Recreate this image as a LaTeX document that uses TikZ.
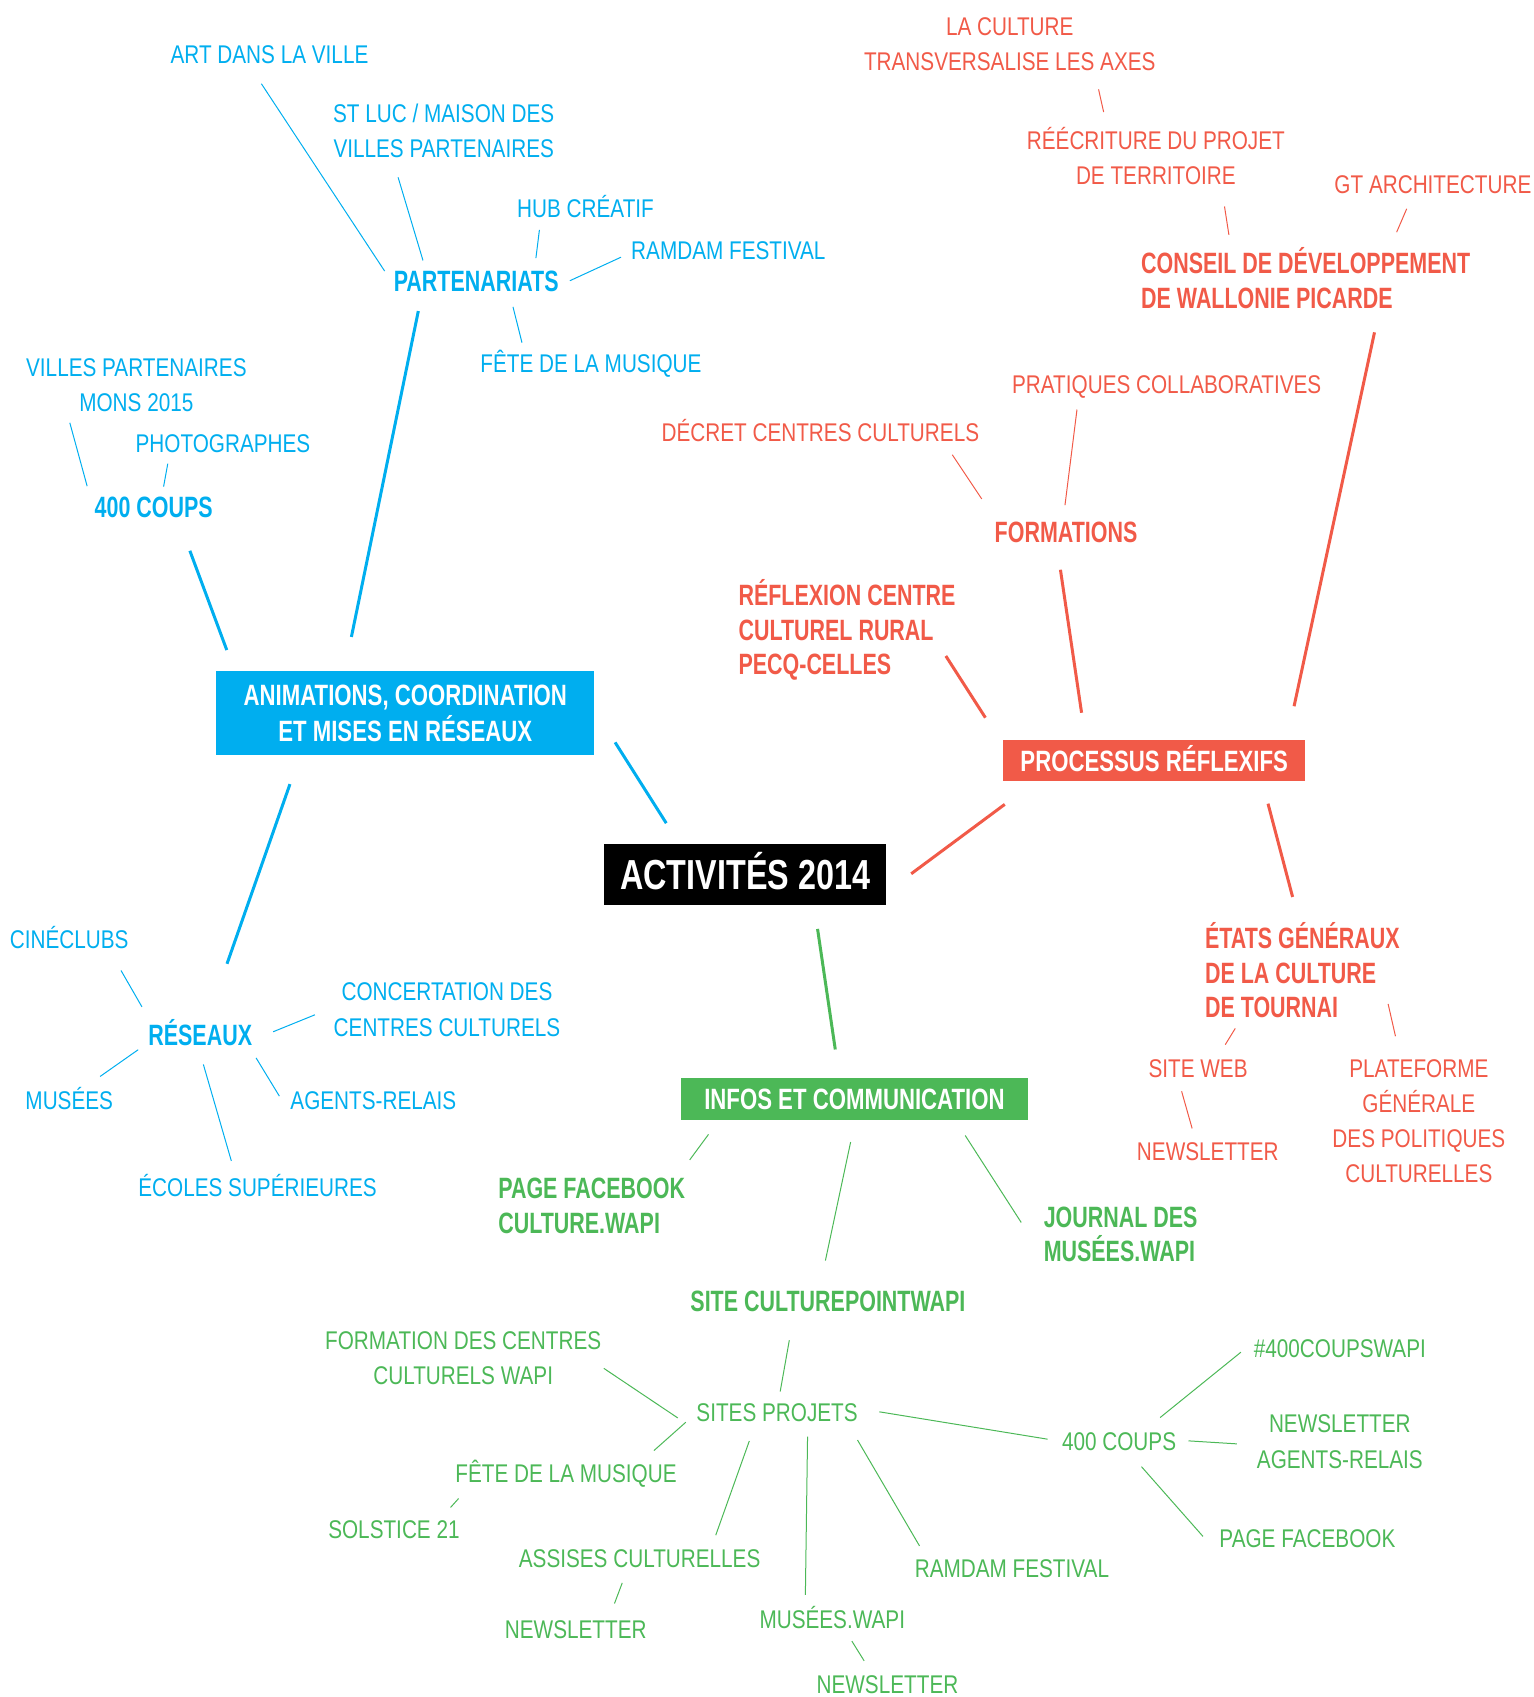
\documentclass[tikz,border=0pt]{standalone}
\usepackage{fontspec}
\newfontfamily\lightfont{Liberation Sans}[FakeStretch=0.81]
\newfontfamily\boldfont{Liberation Sans}[FakeStretch=0.73]
\newfontfamily\boxfont{Liberation Sans}[FakeStretch=0.755]
\newfontfamily\titlefont{Liberation Sans}[FakeStretch=0.77]
\definecolor{cyanA}{HTML}{00AEEF}
\definecolor{redA}{HTML}{F15A48}
\definecolor{greenA}{HTML}{4CB857}

\begin{document}
\begin{tikzpicture}[x=0.5413pt, y=-0.5413pt,
	stack/.style={font=\lightfont\fontsize{12.8}{17.6}\selectfont, align=center, inner sep=3pt},
	small/.style={font=\lightfont\fontsize{12.8}{17.6}\selectfont, inner sep=3pt, text height=9.2pt, text depth=0pt},
	bigstack/.style={font=\boldfont\bfseries\fontsize{14.7}{17.4}\selectfont, align=left, inner sep=3pt},
	big/.style={font=\boldfont\bfseries\fontsize{14.7}{17.4}\selectfont, inner sep=3pt, text height=10.5pt, text depth=0pt},
	box/.style={font=\boxfont\bfseries\fontsize{14.7}{17.9}\selectfont, text=white, align=center, inner sep=0pt},
	twig/.style={line width=0.5pt},
	limb/.style={line width=1.5pt},
	gap/.style 2 args={shorten <=#1pt, shorten >=#2pt}]
	\useasboundingbox (0,0) rectangle (1417,1568);

	\node[small, cyanA] (art) at (249,50) {ART DANS LA VILLE};
	\node[stack, cyanA] (stluc) at (410,121) {ST LUC / MAISON DES\\VILLES PARTENAIRES};
	\node[small, cyanA] (creatif) at (541,192) {HUB CRÉATIF};
	\node[small, cyanA] (ramdam) at (673,231) {RAMDAM FESTIVAL};
	\node[big, cyanA] (part) at (440,260) {PARTENARIATS};
	\node[small, cyanA] (fete) at (546,336) {FÊTE DE LA MUSIQUE};
	\node[stack, cyanA] (villes) at (126,356) {VILLES PARTENAIRES\\MONS 2015};
	\node[small, cyanA] (photo) at (206,410) {PHOTOGRAPHES};
	\node[big, cyanA] (coups) at (142,468) {400 COUPS};
	\node[box, fill=cyanA, minimum width=188.9pt, minimum height=42.2pt] (anim) at (374.5,659) {ANIMATIONS, COORDINATION\\ET MISES EN RÉSEAUX};
	\node[small, cyanA] (cine) at (64,868) {CINÉCLUBS};
	\node[stack, cyanA] (concert) at (413,933) {CONCERTATION DES\\CENTRES CULTURELS};
	\node[big, cyanA] (reseaux) at (185,956) {RÉSEAUX};
	\node[small, cyanA] (musees) at (64,1017) {MUSÉES};
	\node[small, cyanA] (agents) at (345,1017) {AGENTS-RELAIS};
	\node[small, cyanA] (ecoles) at (238,1097) {ÉCOLES SUPÉRIEURES};

	\node[box, font=\titlefont\bfseries\fontsize{21}{25}\selectfont, fill=black, minimum width=141.3pt, minimum height=30.3pt, text height=15pt, text depth=0pt] (act) at (688.5,808) {ACTIVITÉS 2014};

	\node[stack, redA] (culture) at (933,41) {LA CULTURE\\TRANSVERSALISE LES AXES};
	\node[stack, redA] (reecr) at (1068,144) {RÉÉCRITURE DU PROJET\\DE TERRITOIRE};
	\node[small, redA] (gt) at (1324,170) {GT ARCHITECTURE};
	\node[bigstack, redA, anchor=west] (conseil) at (1048.5,257) {CONSEIL DE DÉVELOPPEMENT\\DE WALLONIE PICARDE};
	\node[small, redA] (pratiques) at (1078,355) {PRATIQUES COLLABORATIVES};
	\node[small, redA] (decret) at (758,399) {DÉCRET CENTRES CULTURELS};
	\node[big, redA] (form) at (985,492) {FORMATIONS};
	\node[bigstack, redA, anchor=west] (reflex) at (676.5,582) {RÉFLEXION CENTRE\\CULTUREL RURAL\\PECQ-CELLES};
	\node[box, fill=redA, minimum width=151pt, minimum height=20.6pt, text height=10.5pt, text depth=0pt] (proc) at (1066.5,703) {PROCESSUS RÉFLEXIFS};
	\node[bigstack, redA, anchor=west] (etats) at (1107.5,896.5) {ÉTATS GÉNÉRAUX\\DE LA CULTURE\\DE TOURNAI};
	\node[small, redA] (web) at (1107,987) {SITE WEB};
	\node[small, redA] (newsA) at (1116,1064) {NEWSLETTER};
	\node[stack, redA] (plate) at (1311,1036) {PLATEFORME\\GÉNÉRALE\\DES POLITIQUES\\CULTURELLES};

	\node[box, fill=greenA, minimum width=173.8pt, minimum height=21.1pt, text height=10.5pt, text depth=0pt] (infos) at (789.5,1015.5) {INFOS ET COMMUNICATION};
	\node[bigstack, greenA, anchor=west] (fb) at (454.5,1114.5) {PAGE FACEBOOK\\CULTURE.WAPI};
	\node[bigstack, greenA, anchor=west] (journal) at (958.5,1140.5) {JOURNAL DES\\MUSÉES.WAPI};
	\node[big, greenA] (site) at (765,1202) {SITE CULTUREPOINTWAPI};
	\node[small, greenA] (projets) at (718,1305) {SITES PROJETS};
	\node[stack, greenA] (formation) at (428,1255) {FORMATION DES CENTRES\\CULTURELS WAPI};
	\node[small, greenA] (feteB) at (523,1361) {FÊTE DE LA MUSIQUE};
	\node[small, greenA] (solstice) at (364,1413) {SOLSTICE 21};
	\node[small, greenA] (assises) at (591,1440) {ASSISES CULTURELLES};
	\node[small, greenA] (newsB) at (532,1505) {NEWSLETTER};
	\node[small, greenA] (museesB) at (769,1496) {MUSÉES.WAPI};
	\node[small, greenA] (newsC) at (820,1556) {NEWSLETTER};
	\node[small, greenA] (ramdamB) at (935,1449) {RAMDAM FESTIVAL};
	\node[small, greenA] (coupsB) at (1034,1332) {400 COUPS};
	\node[small, greenA] (tag) at (1238,1246) {\#400COUPSWAPI};
	\node[stack, greenA] (newsD) at (1238,1332) {NEWSLETTER\\AGENTS-RELAIS};
	\node[small, greenA] (fbB) at (1208,1421) {PAGE FACEBOOK};

	\draw[twig, cyanA, gap={8.4}{2.5}] (art.-138) -- (part.176);
	\draw[twig, cyanA, gap={6.8}{2.1}] (stluc.-146) -- (part.162);
	\draw[twig, cyanA, gap={3.3}{3.2}] (creatif.-161) -- (part.16);
	\draw[twig, cyanA, gap={2.1}{2.7}] (ramdam.183) -- (part.-1);
	\draw[twig, cyanA, gap={2.8}{4.4}] (fete.167) -- (part.-26);
	\draw[twig, cyanA, gap={2.3}{2.1}] (villes.-154) -- (coups.166);
	\draw[twig, cyanA, gap={2.2}{1.5}] (photo.-164) -- (coups.61);
	\draw[twig, cyanA, gap={8.9}{6.3}] (cine.-20) -- (reseaux.162);
	\draw[twig, cyanA, gap={6.7}{7.9}] (concert.180) -- (reseaux.-3);
	\draw[twig, cyanA, gap={7.5}{2.3}] (musees.40) -- (reseaux.192);
	\draw[twig, cyanA, gap={3.7}{4.5}] (reseaux.-18) -- (agents.182);
	\draw[twig, cyanA, gap={6.7}{5.6}] (reseaux.-92) -- (ecoles.146);
	\draw[limb, cyanA, gap={6.5}{17.2}] (part.-163) -- (anim.145);
	\draw[limb, cyanA, gap={14.6}{11}] (coups.-33) -- (anim.166);
	\draw[limb, cyanA, gap={19.2}{12.2}] (anim.1) -- (act.155);
	\draw[limb, cyanA, gap={15}{28.6}] (anim.-158) -- (reseaux.65);

	\draw[twig, redA, gap={6.1}{4.4}] (culture.-21) -- (reecr.145);
	\draw[twig, redA, gap={7.8}{3.2}] (reecr.-28) -- (conseil.154);
	\draw[twig, redA, gap={5}{4.9}] (gt.-145) -- (conseil.23);
	\draw[twig, redA, gap={4.4}{10}] (decret.-7) -- (form.167);
	\draw[twig, redA, gap={4.9}{5.3}] (pratiques.-170) -- (form.98);
	\draw[twig, redA, gap={2.2}{4.7}] (etats.-140) -- (web.35);
	\draw[twig, redA, gap={-10.6}{8.6}] (etats.-31) -- (plate.106);
	\draw[twig, redA, gap={3.9}{3.9}] (web.-140) -- (newsA.131);
	\draw[limb, redA, gap={15.2}{18.9}] (act.-7) -- (proc.190.5);
	\draw[limb, redA, gap={-14.9}{16.2}] (reflex.-24) -- (proc.174);
	\draw[limb, redA, gap={10.3}{13.7}] (form.-117) -- (proc.163);
	\draw[limb, redA, gap={8.8}{17.2}] (conseil.-27) -- (proc.9);
	\draw[limb, redA, gap={11.3}{9.8}] (proc.-11) -- (etats.95);

	\draw[limb, greenA, gap={12}{14.2}] (act.-24) -- (infos.125);
	\draw[twig, greenA, gap={8.6}{7.5}] (infos.-171) -- (fb.21);
	\draw[twig, greenA, gap={8.9}{14.9}] (infos.-12) -- (journal.189);
	\draw[twig, greenA, gap={11}{12}] (infos.-88) -- (site.114);
	\draw[twig, greenA, gap={11.4}{2.7}] (site.-154) -- (projets.82);
	\draw[twig, greenA, gap={-2.3}{7.4}] (formation.-5) -- (projets.189);
	\draw[twig, greenA, gap={2.8}{5.1}] (projets.184) -- (feteB.11);
	\draw[twig, greenA, gap={6.7}{4.2}] (feteB.-171) -- (solstice.17);
	\draw[twig, greenA, gap={6.9}{4.1}] (projets.-146) -- (assises.12);
	\draw[twig, greenA, gap={4.7}{5.2}] (assises.-132) -- (newsB.24);
	\draw[twig, greenA, gap={4.3}{4.3}] (projets.-27) -- (museesB.150);
	\draw[twig, greenA, gap={3.8}{4.5}] (museesB.-45) -- (newsC.140);
	\draw[twig, greenA, gap={7}{3.9}] (projets.-12) -- (ramdamB.170);
	\draw[twig, greenA, gap={7.7}{4.1}] (projets.2) -- (coupsB.179);
	\draw[twig, greenA, gap={6.7}{4.2}] (coupsB.27) -- (tag.179);
	\draw[twig, greenA, gap={3}{6.8}] (coupsB.1) -- (newsD.182);
	\draw[twig, greenA, gap={6.3}{7.6}] (coupsB.-48) -- (fbB.186);
\end{tikzpicture}
\end{document}
